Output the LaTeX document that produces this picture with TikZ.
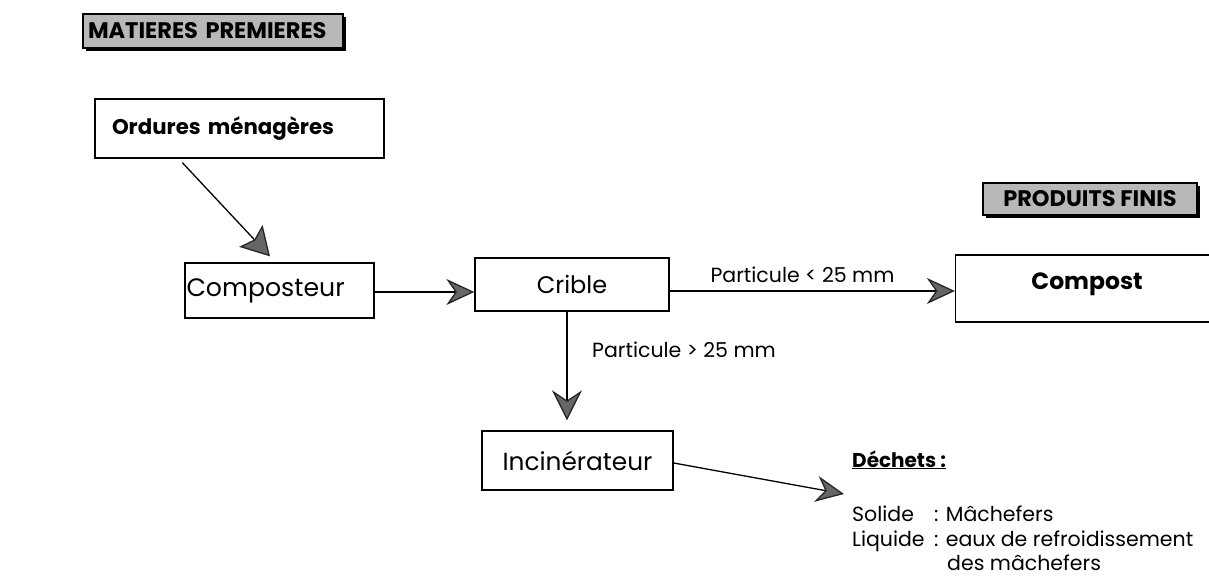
\documentclass[tikz,border=0pt]{standalone}
\usepackage{fontspec}
\setmainfont{Poppins}
\usetikzlibrary{arrows.meta,calc}
\begin{document}
\begin{tikzpicture}[x=1pt,y=-1pt,
  box/.style={draw=black,line width=1.3pt,inner sep=0pt,font=\fontsize{24}{28}\selectfont},
  hdr/.style={draw=black,line width=1.3pt,fill=black!28,inner sep=0pt,font=\bfseries\fontsize{22.5}{26}\selectfont},
  arr/.style={line width=1.3pt,draw=black,-{Stealth[length=28pt,width=26pt,inset=9pt,fill=black!60,color=black!85]}},
  lbl/.style={font=\fontsize{20.5}{24}\selectfont,inner sep=0pt},
  dl/.style={font=\fontsize{20.5}{24}\selectfont,inner sep=0pt,anchor=base west}]
\useasboundingbox (0,0) rectangle (1209,577);
\clip (0,0) rectangle (1209,577);
% headers
\fill[black] (86,17) rectangle (346,51);
\node[hdr,text width=250pt,align=left,inner xsep=5pt,minimum height=34pt] (mp) at (213,31) {MATIERES PREMIERES};
\fill[black] (986,186) rectangle (1200,218);
\node[hdr,minimum width=214pt,minimum height=32pt] (pf) at (1090,199) {PRODUITS FINIS};
% boxes
\node[box,text width=255pt,align=left,inner xsep=17pt,minimum height=59pt,font=\bfseries\fontsize{21.3}{25}\selectfont] (om) at (239.5,128.5) {Ordures ménagères};
\node[box,text width=186pt,align=left,inner xsep=1.5pt,minimum height=55pt,font=\fontsize{25.2}{29}\selectfont] (co) at (279.5,290.5) {Composteur};
\node[box,minimum width=194pt,minimum height=53pt] (cr) at (572,284.5) {Crible};
\node[box,minimum width=263pt,minimum height=67pt,font=\bfseries\fontsize{23.5}{27}\selectfont,text depth=14pt] (cp) at (1087,288.5) {Compost};
\node[box,minimum width=191pt,minimum height=59pt,font=\fontsize{24.8}{29}\selectfont] (in) at (577.5,460.5) {Incinérateur};
% arrows
\coordinate (o1) at ($(om.south west)+(88,4)$);
\coordinate (c1) at ($(co.north)+(-9.5,-6)$);
\draw[arr,-{Stealth[length=28pt,width=32pt,inset=5pt,fill=black!60,color=black!85]}] (o1) -- (c1);
\coordinate (c2) at ($(co.east)+(0,1.5)$);
\draw[arr] (c2) -- (c2 -| cr.west);
\coordinate (c3) at ($(cr.east)+(0,6.5)$);
\draw[arr] (c3) -- (c3 -| cp.west);
\node[lbl,anchor=base] (l1) at (802.5,282) {Particule < 25 mm};
\coordinate (c4) at ($(cr.south)+(-5,0)$);
\draw[arr,-{Stealth[length=30pt,width=30pt,inset=10pt,fill=black!60,color=black!85]}] (c4) -- ($(c4 |- in.north)+(0,-10)$);
\node[lbl,anchor=base west] (l2) at (592,357) {Particule > 25 mm};
\coordinate (i1) at ($(in.east)+(0,2.5)$);
\coordinate (d1) at (844,494);
\draw[arr] (i1) -- (d1);
% dechets
\node[anchor=base west,inner sep=0pt,font=\bfseries\fontsize{20}{24}\selectfont] (de) at (852,467) {\underline{Déchets :}};
\node[dl] (s1) at (852,521) {Solide};
\node[dl] (s2) at (934,521) {: Mâchefers};
\node[dl] (q1) at (852,546) {Liquide};
\node[dl] (q2) at (934,546) {: eaux de refroidissement};
\node[dl] (q3) at (947,570) {des mâchefers};
\end{tikzpicture}
\end{document}
